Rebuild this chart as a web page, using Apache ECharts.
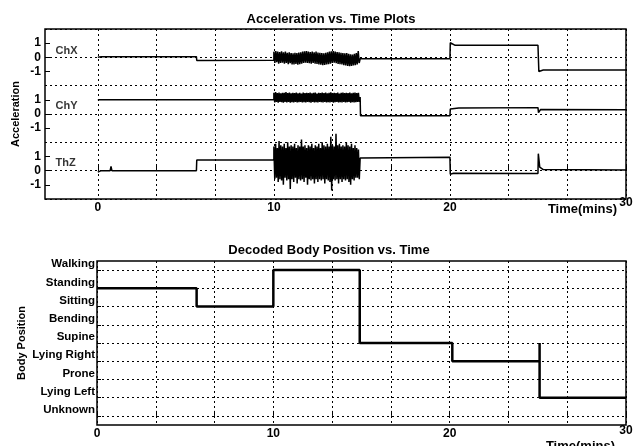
<!DOCTYPE html>
<html>
<head>
<meta charset="utf-8">
<title>Acceleration vs. Time Plots</title>
<script src="https://cdn.jsdelivr.net/npm/echarts@6/dist/echarts.min.js"></script>
<style>
  html, body { margin: 0; padding: 0; background: #fff; }
  #chart { width: 634px; height: 446px; }
</style>
</head>
<body>
<div id="chart"></div>
<script>
// time axis (minutes): labelled ticks and the dotted grid every 10/3 min
var timeLabels = [0, 10, 20, 30];
var timeGrid = [0, 10 / 3, 20 / 3, 10, 40 / 3, 50 / 3, 20, 70 / 3, 80 / 3, 30];

// the three channels share one axes, each shifted to its own baseline
var channelNames = ['ChX', 'ChY', 'ThZ'];
var channelOffsets = [8, 4, 0];
var accelTickValues = [9, 8, 7, 5, 4, 3, 1, 0, -1];
var accelTickLabels = ['1', '0', '-1', '1', '0', '-1', '1', '0', '-1'];

// [time, acceleration] outside the active period
var chXBefore = [[0, 0], [0.2, 0.05], [5.6, 0.05], [5.62, -0.22], [10, -0.2]];
var chXAfter = [[14.9, -0.1], [20, -0.1], [20.02, 1.03], [20.3, 0.85], [25, 0.85], [25.05, -1.0], [25.3, -0.9], [30, -0.9]];
var chYBefore = [[0, 1.0], [5.6, 1.0], [5.62, 1.12], [5.7, 1.03], [10, 1.03]];
var chYAfter = [[14.9, 1.2], [14.92, -0.12], [20, -0.12], [20.02, 0.35], [20.5, 0.43], [25, 0.45], [25.03, 0.1], [25.15, 0.32], [30, 0.3]];
var thZBefore = [[0, -0.1], [0.2, 0], [0.7, 0], [0.75, 0.3], [0.8, 0], [5.6, 0], [5.62, 0.75], [10, 0.75]];
var thZAfter = [[14.9, 0.9], [20, 0.95], [20.02, -0.25], [20.2, -0.18], [25, -0.2], [25.02, 1.2], [25.1, 0.25], [25.3, 0.08], [30, 0.05]];

// active period 10 - 14.9 min, one sample every 0.049 min
var activeStart = 10;
var activeEnd = 14.9;
var chXActive = [0.4, -0.4, 0.45, -0.35, 0.4, -0.45, 0.38, -0.4, 0.42, -0.38,
  0.35, -0.45, 0.4, -0.4, 0.32, -0.48, 0.36, -0.42, 0.3, -0.5,
  0.28, -0.5, 0.32, -0.46, 0.3, -0.52, 0.34, -0.48, 0.36, -0.45,
  0.4, -0.4, 0.42, -0.38, 0.45, -0.4, 0.4, -0.42, 0.38, -0.45,
  0.4, -0.4, 0.36, -0.44, 0.4, -0.46, 0.34, -0.5, 0.32, -0.52,
  0.3, -0.55, 0.28, -0.54, 0.32, -0.5, 0.35, -0.48, 0.4, -0.45,
  0.42, -0.4, 0.45, -0.38, 0.4, -0.42, 0.38, -0.46, 0.36, -0.48,
  0.32, -0.5, 0.3, -0.55, 0.28, -0.58, 0.3, -0.6, 0.25, -0.62,
  0.22, -0.6, 0.2, -0.58, 0.25, -0.55, 0.3, -0.5, 0.45, -0.4];
var chYActive = [1.5, 0.82, 1.55, 0.85, 1.48, 0.8, 1.52, 0.86, 1.46, 0.83,
  1.5, 0.8, 1.49, 0.85, 1.55, 0.82, 1.47, 0.86, 1.52, 0.8,
  1.46, 0.84, 1.5, 0.82, 1.48, 0.85, 1.51, 0.81, 1.46, 0.83,
  1.49, 0.86, 1.45, 0.82, 1.51, 0.84, 1.47, 0.81, 1.5, 0.85,
  1.48, 0.83, 1.52, 0.8, 1.46, 0.85, 1.49, 0.82, 1.51, 0.84,
  1.45, 0.81, 1.5, 0.85, 1.47, 0.83, 1.52, 0.82, 1.48, 0.86,
  1.51, 0.81, 1.46, 0.84, 1.49, 0.82, 1.53, 0.85, 1.47, 0.8,
  1.5, 0.83, 1.48, 0.86, 1.52, 0.81, 1.45, 0.84, 1.49, 0.82,
  1.51, 0.85, 1.47, 0.81, 1.5, 0.83, 1.48, 0.85, 1.52, 0.8,
  1.46, 0.84, 1.49, 0.82, 1.51, 0.83, 1.47, 0.86, 1.5, 0.85];
var thZActive = [1.7, -0.6, 1.9, -0.5, 1.6, -0.8, 2.1, -0.6, 1.8, -0.7,
  1.7, -1.0, 1.9, -0.5, 1.6, -0.7, 2.0, -0.6, 1.7, -1.3,
  1.8, -0.6, 1.7, -0.8, 1.9, -0.5, 1.6, -0.9, 1.8, -0.6,
  1.7, -0.7, 2.2, -0.6, 1.7, -0.8, 1.8, -0.5, 1.6, -1.0,
  1.8, -0.6, 1.7, -0.7, 1.9, -0.6, 1.6, -0.9, 1.8, -0.6,
  1.7, -0.8, 1.9, -0.6, 1.6, -0.7, 2.0, -0.6, 1.8, -0.9,
  1.7, -0.6, 1.9, -0.7, 1.7, -0.8, 2.4, -1.4, 1.8, -0.6,
  1.7, -0.7, 2.6, -0.6, 1.8, -0.9, 1.9, -0.6, 1.7, -0.8,
  1.8, -0.6, 1.7, -0.7, 2.0, -0.6, 1.8, -0.8, 1.7, -1.0,
  1.9, -0.6, 1.6, -0.7, 1.8, -0.5, 1.6, -0.5, 1.5, -0.6];

// decoded body position (bottom plot)
var positions = ['Unknown', 'Lying Left', 'Prone', 'Lying Right', 'Supine', 'Bending', 'Sitting', 'Standing', 'Walking'];
var decodedTimes = [0, 5.65, 5.65, 10, 10, 14.9, 14.9, 20.15, 20.15, 25.1, 25.1, 25.1, 30];
var decodedPos = ['Standing', 'Standing', 'Sitting', 'Sitting', 'Walking', 'Walking', 'Supine', 'Supine',
  'Lying Right', 'Lying Right', 'Supine', 'Lying Left', 'Lying Left'];

var FONT = 'Liberation Sans, Arial, sans-serif';

function channelData(before, active, after, offset) {
  var out = before.map(function (p) { return [p[0], p[1] + offset]; });
  var step = (activeEnd - activeStart) / active.length;
  active.forEach(function (v, i) {
    out.push([activeStart + i * step, v + offset]);
  });
  after.forEach(function (p) { out.push([p[0], p[1] + offset]); });
  return out;
}

var accelData = [
  channelData(chXBefore, chXActive, chXAfter, channelOffsets[0]),
  channelData(chYBefore, chYActive, chYAfter, channelOffsets[1]),
  channelData(thZBefore, thZActive, thZAfter, channelOffsets[2])
];

var decodedData = decodedTimes.map(function (t, i) {
  return [t, positions.indexOf(decodedPos[i])];
});

var dotted = { color: '#000', width: 1, type: [2, 3] };
var labelFont = { color: '#000', fontFamily: FONT, fontWeight: 'bold', fontSize: 12 };

function timeAxis(gridIndex, min, endLift) {
  return {
    type: 'value',
    gridIndex: gridIndex,
    min: min,
    max: 30,
    axisLine: { show: false },
    axisTick: { show: true, inside: true, length: 5, customValues: timeGrid, lineStyle: { color: '#000' } },
    axisLabel: Object.assign({
      customValues: timeLabels,
      margin: 3,
      hideOverlap: false,
      formatter: function (v) { return v === 30 ? '{end|30}' : String(v); },
      rich: { end: Object.assign({ lineHeight: endLift }, labelFont) }
    }, labelFont),
    splitLine: { show: true, lineStyle: dotted }
  };
}

// x axis title sits under the right end of each plot, like the original
function timeTitle(right, top) {
  return {
    type: 'text', x: right, y: top,
    style: { text: 'Time(mins)', align: 'right', verticalAlign: 'top', font: 'bold 13px ' + FONT, fill: '#000' }
  };
}

var chart = echarts.init(document.getElementById('chart'));

chart.setOption({
  animation: false,
  backgroundColor: '#fff',
  graphic: [
    { type: 'text', x: 331, y: 19, style: { text: 'Acceleration vs. Time Plots', align: 'center', verticalAlign: 'middle', font: 'bold 13px ' + FONT, fill: '#000' } },
    { type: 'text', x: 329, y: 250, style: { text: 'Decoded Body Position vs. Time', align: 'center', verticalAlign: 'middle', font: 'bold 13px ' + FONT, fill: '#000' } },
    timeTitle(617, 203),
    timeTitle(615, 440)
  ],
  grid: [
    { left: 45, top: 29, width: 581, height: 170, show: true, borderColor: '#000', borderWidth: 1.5, outerBoundsMode: 'none' },
    { left: 97, top: 261, width: 529, height: 164, show: true, borderColor: '#000', borderWidth: 1.5, outerBoundsMode: 'none' }
  ],
  xAxis: [
    timeAxis(0, -3, 1),
    timeAxis(1, 0, 5)
  ],
  yAxis: [
    {
      type: 'value', gridIndex: 0, min: -2, max: 10, interval: 2,
      axisLine: { show: false }, axisTick: { show: false }, axisLabel: { show: false },
      splitLine: { show: true, lineStyle: dotted },
      name: 'Acceleration', nameLocation: 'middle', nameGap: 24, nameMoveOverlap: false,
      nameTextStyle: { color: '#000', fontFamily: FONT, fontWeight: 'bold', fontSize: 11 }
    },
    {
      type: 'value', gridIndex: 0, min: -2, max: 10, position: 'left',
      axisLine: { show: false },
      axisTick: { show: true, inside: true, length: 5, customValues: accelTickValues, lineStyle: { color: '#000' } },
      axisLabel: Object.assign({
        customValues: accelTickValues,
        margin: 4,
        hideOverlap: false,
        formatter: function (v) { return accelTickLabels[accelTickValues.indexOf(v)]; }
      }, labelFont),
      splitLine: { show: false }
    },
    {
      type: 'value', gridIndex: 1, min: -0.5, max: 8.5,
      axisLine: { show: false },
      axisTick: { show: true, inside: true, length: 4, customValues: [0, 1, 2, 3, 4, 5, 6, 7, 8], lineStyle: { color: '#000' } },
      axisLabel: Object.assign({
        customValues: [0, 1, 2, 3, 4, 5, 6, 7, 8],
        margin: 2,
        hideOverlap: false,
        verticalAlign: 'bottom',
        formatter: function (v) { return positions[v]; }
      }, labelFont, { fontSize: 11.5 }),
      splitLine: { show: true, lineStyle: dotted },
      name: 'Body Position', nameLocation: 'middle', nameGap: 70, nameMoveOverlap: false,
      nameTextStyle: { color: '#000', fontFamily: FONT, fontWeight: 'bold', fontSize: 11 }
    }
  ],
  series: accelData.map(function (d) {
    return {
      type: 'line', xAxisIndex: 0, yAxisIndex: 0, data: d,
      showSymbol: false, symbol: 'none',
      lineStyle: { color: '#000', width: 1.5 }
    };
  }).concat([
    {
      type: 'scatter', xAxisIndex: 0, yAxisIndex: 0, symbolSize: 0,
      data: [[-2.4, 8.45, channelNames[0]], [-2.4, 4.6, channelNames[1]], [-2.4, 0.55, channelNames[2]]],
      label: Object.assign({ show: true, position: 'right', distance: 0, formatter: function (p) { return p.data[2]; } }, labelFont, { fontSize: 11 })
    },
    {
      type: 'line', xAxisIndex: 1, yAxisIndex: 2, data: decodedData,
      showSymbol: false, symbol: 'none',
      lineStyle: { color: '#000', width: 2.5 }
    }
  ])
});
</script>
</body>
</html>
